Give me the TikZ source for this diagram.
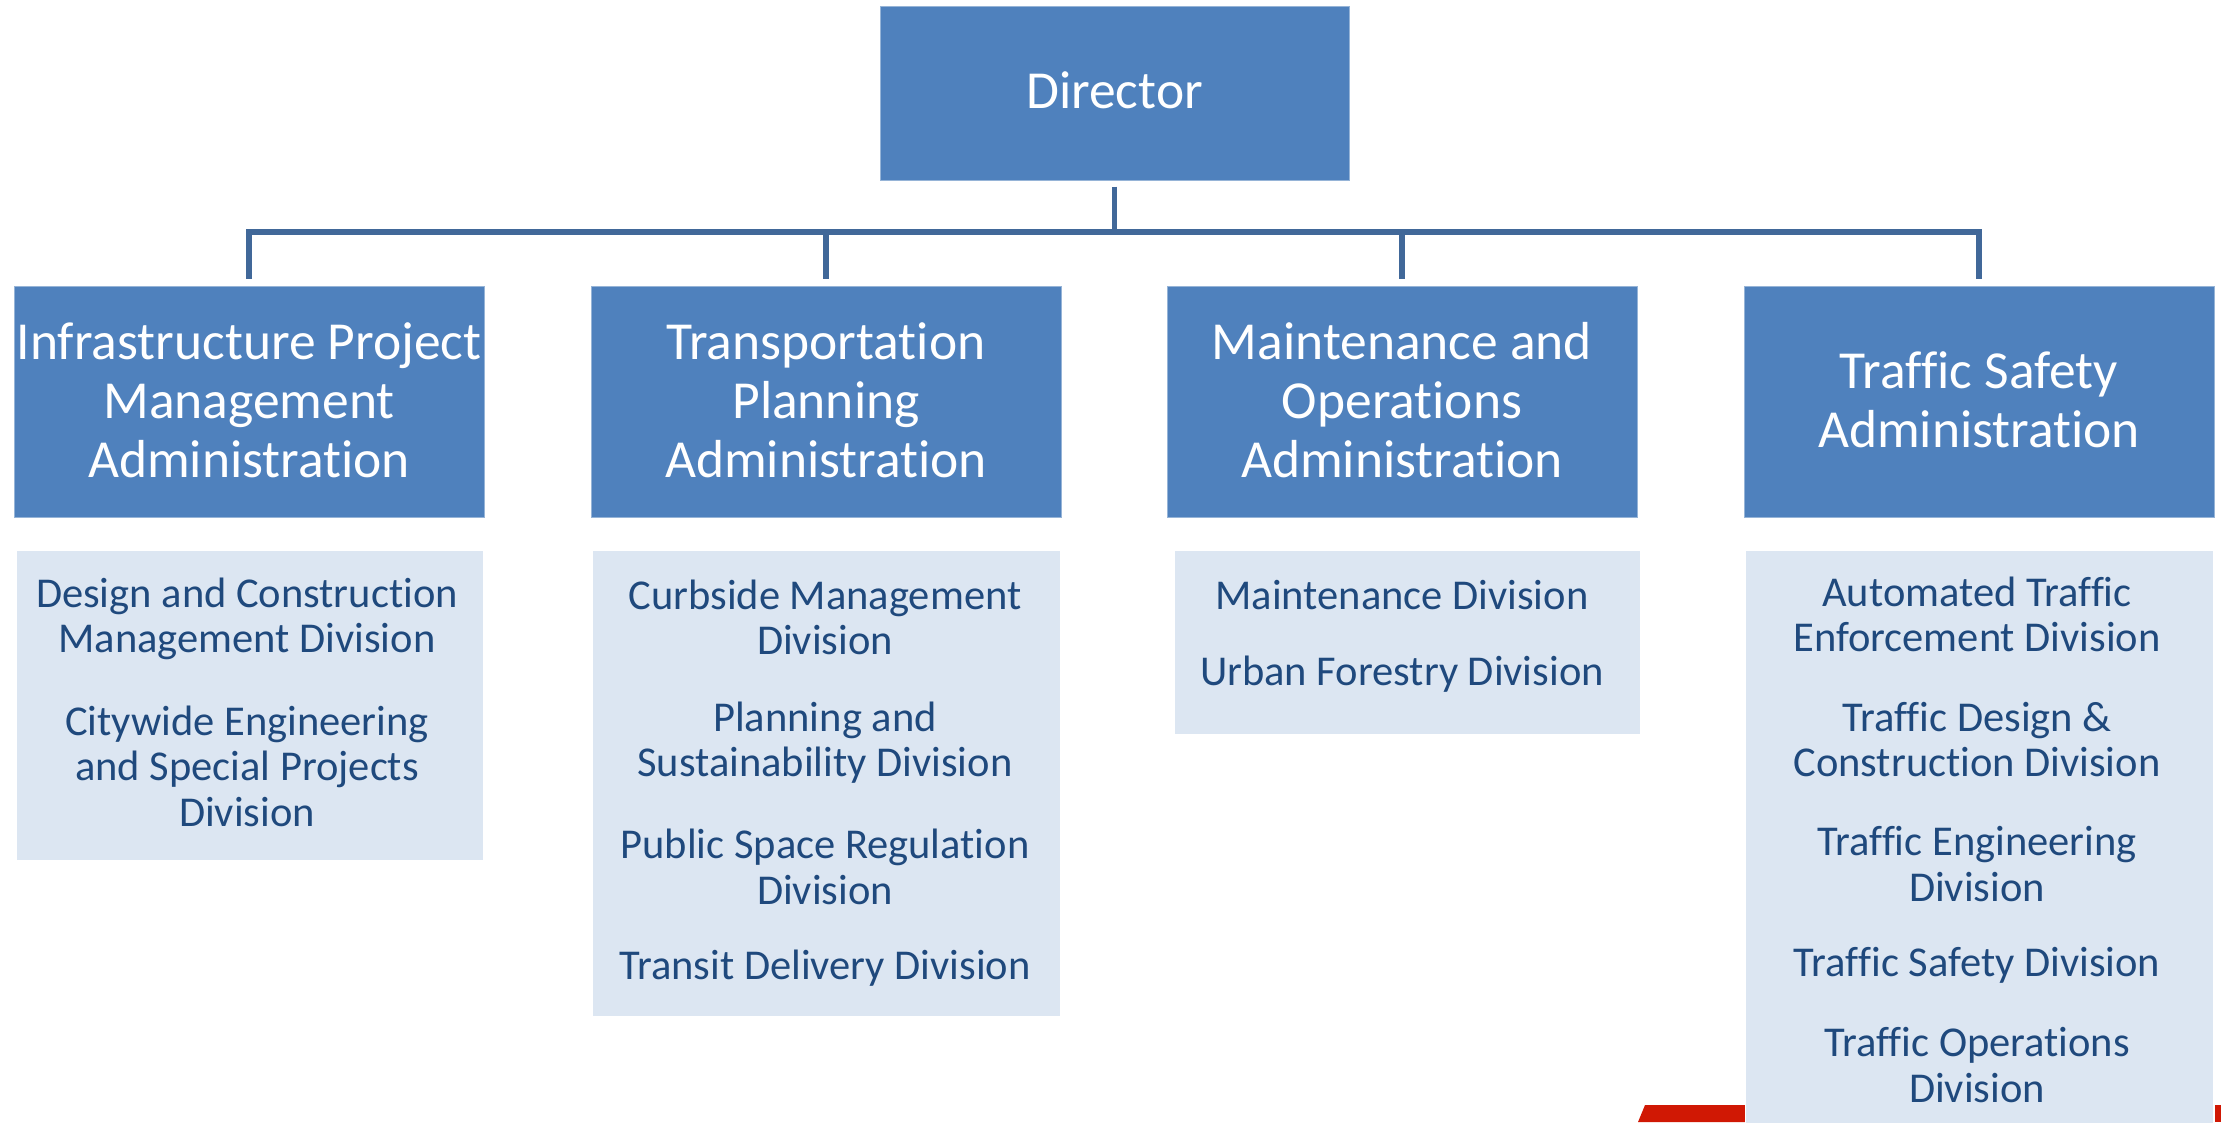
\documentclass[tikz,border=0pt]{standalone}
\usepackage{fontspec}
\setmainfont{Carlito}[Ligatures={NoCommon,NoRare,NoDiscretionary}]
\definecolor{adminblue}{RGB}{79,129,189}
\definecolor{adminedge}{RGB}{150,180,215}
\definecolor{divfill}{RGB}{220,230,242}
\definecolor{divtextc}{RGB}{31,73,125}
\definecolor{connc}{RGB}{65,104,153}
\definecolor{redmark}{RGB}{208,24,4}
\tikzset{
  adminbox/.style={rectangle, fill=adminblue, draw=adminedge, line width=1pt,
    minimum width=470pt, minimum height=231pt, inner sep=0pt,
    text=white, align=center, font=\fontsize{53.5}{59}\selectfont},
  dirbox/.style={adminbox, minimum width=469pt, minimum height=174pt},
  divbox/.style={rectangle, fill=divfill, draw=white, line width=0.8pt, inner sep=0pt, minimum width=467pt},
  divtext/.style={text=divtextc, align=center, inner sep=0pt, font=\fontsize{42.5}{45.5}\selectfont},
  conn/.style={draw=connc, line width=5.7pt}
}
\begin{document}
\begin{tikzpicture}[x=1pt,y=-1pt]
\useasboundingbox (0,0) rectangle (2221,1122);
% red marks at bottom
\fill[redmark] (1638,1122) -- (1645,1105) -- (1750,1105) -- (1750,1122) -- cycle;
\fill[redmark] (2215,1105) rectangle (2221,1122);

\node[dirbox] (dir) at (1114.5,93) {};
\node[text=white, font=\fontsize{53.5}{59}\selectfont, inner sep=0pt] (dirt) at (1114.5,90) {Director};

\node[adminbox] (a1) at (249,401.5) {};
\node[adminbox] (a2) at (826,401.5) {};
\node[adminbox] (a3) at (1402,401.5) {};
\node[adminbox] (a4) at (1979,401.5) {};
\node[adminbox, draw=none, fill=none, minimum width=0pt, minimum height=0pt] (a1t) at (249,400) {Infrastructure Project\\Management\\Administration};
\node[adminbox, draw=none, fill=none, minimum width=0pt, minimum height=0pt] (a2t) at (826,400) {Transportation\\Planning\\Administration};
\node[adminbox, draw=none, fill=none, minimum width=0pt, minimum height=0pt] (a3t) at (1402,400) {Maintenance and\\Operations\\Administration};
\node[adminbox, draw=none, fill=none, minimum width=0pt, minimum height=0pt] (a4t) at (1979,400) {Traffic Safety\\Administration};

\coordinate (bus) at (1114,232);
\draw[conn, shorten <=6pt] (dir.south) -- (dir.south |- bus);
\foreach \a in {a1,a2,a3,a4}{
  \draw[conn, shorten >=7pt] (bus) -| (\a.north);
}

% division boxes
\node[divbox, minimum height=310pt] (d1) at (249.5,705) {};
\node[divbox, minimum width=468pt, minimum height=466pt] (d2) at (826,783) {};
\node[divbox, minimum width=466pt, minimum height=184pt] (d3) at (1407,642) {};
\node[divbox, minimum width=468pt, minimum height=580pt] (d4) at (1979,840) {};

\node[divtext] (d1a) at (247,619) {Design and Construction\\Management Division};
\node[divtext] (d1b) at (247,766) {Citywide Engineering\\and Special Projects\\Division};

\node[divtext] (d2a) at (825,617.5) {Curbside Management\\Division};
\node[divtext] (d2b) at (825,742.5) {Planning and\\Sustainability Division};
\node[divtext] (d2c) at (825,867) {Public Space Regulation\\Division};
\node[divtext] (d2d) at (825,968.5) {Transit Delivery Division};

\node[divtext] (d3a) at (1402,595) {Maintenance Division};
\node[divtext] (d3b) at (1402,674) {Urban Forestry Division};

\node[divtext] (d4a) at (1977,614.5) {Automated Traffic\\Enforcement Division};
\node[divtext] (d4b) at (1977,739.5) {Traffic Design \&\\Construction Division};
\node[divtext] (d4c) at (1977,864) {Traffic Engineering\\Division};
\node[divtext] (d4d) at (1977,965.5) {Traffic Safety Division};
\node[divtext] (d4e) at (1977,1065) {Traffic Operations\\Division};
\end{tikzpicture}
\end{document}
